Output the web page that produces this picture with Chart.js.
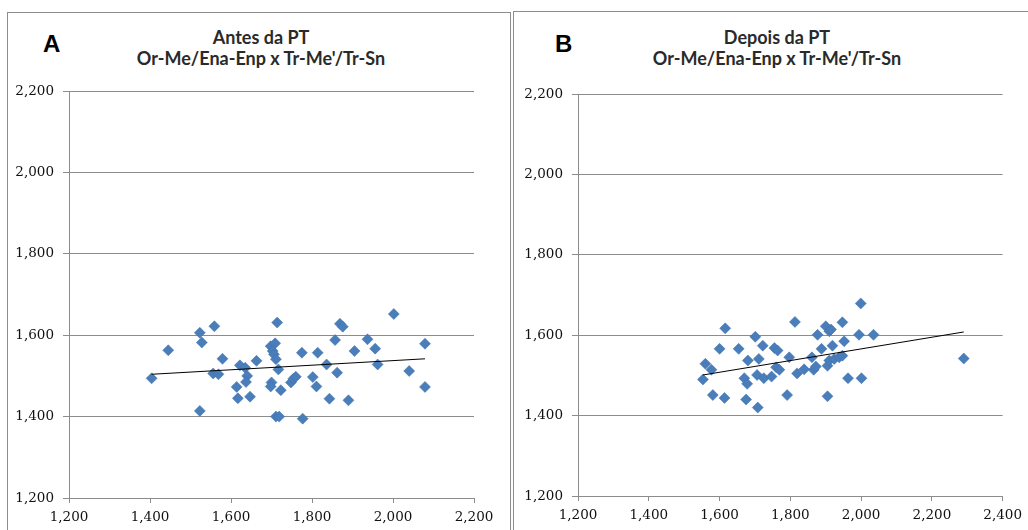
<!DOCTYPE html>
<html>
<head>
<meta charset="utf-8">
<script src="https://cdn.jsdelivr.net/npm/chart.js@4.4.0/dist/chart.umd.min.js"></script>
<style>
  html, body { margin: 0; padding: 0; background: #ffffff; width: 1028px; height: 530px; overflow: hidden; }
  .panel { position: absolute; border: 1px solid #8c8c8c; box-sizing: border-box; background: #fff; }
  .letter { position: absolute; font-family: "Liberation Sans", Arial, sans-serif; font-weight: bold; font-size: 24px; color: #000; line-height: 24px; }
  .title { position: absolute; font-family: Lato, "Open Sans", sans-serif; font-weight: bold; font-size: 18px; color: #2a2a2a; text-align: center; line-height: 21px; white-space: nowrap; transform: translateX(-50%); }
  canvas { position: absolute; }
</style>
</head>
<body>
<div class="panel" style="left:7px; top:12px; width:504px; height:540px;"></div>
<div class="panel" style="left:513px; top:11px; width:540px; height:540px;"></div>
<div class="letter" style="left:43px; top:32px;">A</div>
<div class="letter" style="left:555px; top:32px;">B</div>
<div class="title" style="left:261px; top:27px;">Antes da PT<br>Or-Me/Ena-Enp x Tr-Me'/Tr-Sn</div>
<div class="title" style="left:777px; top:27px;">Depois da PT<br>Or-Me/Ena-Enp x Tr-Me'/Tr-Sn</div>
<div style="position:absolute; left:0; top:0; width:512px; height:530px;"><canvas id="cA"></canvas></div>
<div style="position:absolute; left:512px; top:0; width:516px; height:530px;"><canvas id="cB"></canvas></div>
<script>
// ---- Data ----
const titleA = ["Antes da PT", "Or-Me/Ena-Enp x Tr-Me'/Tr-Sn"];
const titleB = ["Depois da PT", "Or-Me/Ena-Enp x Tr-Me'/Tr-Sn"];

const xA = [1404,1445,1523,1528,1523,1559,1556,1569,1579,1614,1617,1622,1635,1640,1637,1647,1663,1698,1709,1703,1706,1711,1714,1700,1698,1717,1723,1711,1719,1748,1754,1760,1775,1777,1802,1811,1814,1836,1843,1857,1862,1869,1876,1890,1905,1937,1956,1962,2002,2040,2079,2079];
const yA = [1494,1563,1606,1582,1414,1622,1506,1504,1542,1473,1445,1526,1520,1500,1485,1449,1537,1573,1580,1561,1553,1541,1631,1484,1474,1516,1465,1400,1400,1484,1493,1498,1557,1395,1497,1474,1557,1528,1444,1588,1508,1628,1621,1440,1561,1590,1567,1528,1652,1512,1579,1473];

const xB = [1553,1560,1577,1581,1600,1614,1616,1654,1670,1680,1678,1675,1701,1711,1706,1708,1722,1725,1747,1755,1764,1760,1769,1791,1797,1813,1819,1839,1861,1866,1872,1877,1888,1900,1910,1915,1905,1910,1919,1924,1938,1947,1947,1952,1905,1963,1994,1999,2001,2035,2290];
const yB = [1490,1529,1514,1451,1566,1444,1617,1566,1493,1537,1479,1440,1596,1541,1501,1420,1574,1493,1497,1568,1562,1520,1514,1451,1545,1633,1505,1515,1545,1514,1522,1601,1566,1622,1610,1614,1524,1537,1574,1541,1545,1549,1632,1585,1448,1493,1601,1679,1493,1601,1542];

// trendline end points
const trendAx = [1404, 2079];
const trendAy = [1504, 1542];
const trendBx = [1553, 2290];
const trendBy = [1501, 1608];

// axis ranges / ticks
const xTicksA = [1200, 1400, 1600, 1800, 2000, 2200];
const xTicksB = [1200, 1400, 1600, 1800, 2000, 2200, 2400];
const yTicks = [1200, 1400, 1600, 1800, 2000, 2200];

// ---- build ----
function pts(xs, ys) { return xs.map((x, i) => ({ x: x, y: ys[i] })); }
function fmt(v) { return Number(v).toLocaleString('en-US'); }

const tickFont = { family: "'DejaVu Serif', serif", size: 13.5 };
const gridCol = '#8c8c8c';

function makeChart(id, xs, ys, tx, ty, xTicks, pad, yW, xH) {
  const ctx = document.getElementById(id);
  return new Chart(ctx, {
    type: 'scatter',
    data: {
      datasets: [
        {
          data: pts(tx, ty), showLine: true, borderColor: '#000000', borderWidth: 1,
          pointRadius: 0, fill: false
        },
        {
          data: pts(xs, ys), pointStyle: 'rectRot', pointRadius: 5.5,
          backgroundColor: '#4a7ebb', borderColor: '#3f6fa8', borderWidth: 0.5
        }
      ]
    },
    options: {
      responsive: true, maintainAspectRatio: false, animation: false,
      layout: { padding: pad },
      plugins: { legend: { display: false }, tooltip: { enabled: false }, title: { display: false } },
      scales: {
        x: {
          type: 'linear', min: xTicks[0], max: xTicks[xTicks.length - 1],
          afterBuildTicks: (s) => { s.ticks = xTicks.map(v => ({ value: v })); },
          afterFit: (s) => { s.height = xH; },
          ticks: { font: tickFont, color: '#111111', padding: 6, callback: fmt, maxRotation: 0 },
          grid: { drawOnChartArea: false, drawTicks: true, tickLength: 5, color: gridCol },
          border: { display: true, color: gridCol, width: 1 }
        },
        y: {
          type: 'linear', min: yTicks[0], max: yTicks[yTicks.length - 1],
          afterBuildTicks: (s) => { s.ticks = yTicks.map(v => ({ value: v })); },
          afterFit: (s) => { s.width = yW; },
          ticks: { font: tickFont, color: '#111111', padding: 9, callback: fmt },
          grid: { drawOnChartArea: true, drawTicks: true, tickLength: 6, color: gridCol },
          border: { display: true, color: gridCol, width: 1 }
        }
      }
    }
  });
}

makeChart('cA', xA, yA, trendAx, trendAy, xTicksA, { left: 0, top: 91, right: 38, bottom: 0 }, 69, 32);
makeChart('cB', xB, yB, trendBx, trendBy, xTicksB, { left: 0, top: 94, right: 25, bottom: 0 }, 66, 34);
</script>
</body>
</html>
